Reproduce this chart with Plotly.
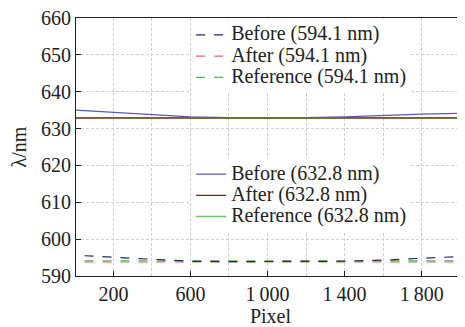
import plotly.graph_objects as go

pixel = [50, 200, 400, 500, 600, 800, 1000, 1200, 1400, 1600, 1800, 2000]
before_594 = [595.5, 595.1, 594.5, 594.2, 594.0, 593.9, 593.9, 593.9, 594.0, 594.3, 594.8, 595.3]
after_594 = [593.8, 593.8, 593.8, 593.9, 593.9, 593.9, 593.9, 593.9, 593.9, 593.9, 593.8, 593.8]
ref_594 = [594.1] * len(pixel)

pixel_s = [6, 200, 400, 600, 800, 1000, 1200, 1400, 1600, 1800, 2025]
before_633 = [635.0, 634.4, 633.7, 633.2, 633.0, 632.9, 633.0, 633.2, 633.6, 633.9, 634.2]
after_633 = [632.9, 632.9, 632.8, 632.8, 632.8, 632.8, 632.8, 632.8, 632.8, 632.9, 632.9]
ref_633 = [632.8] * len(pixel_s)

xtick_vals = [200, 600, 1000, 1400, 1800]
xtick_text = ["200", "600", "1\u2009000", "1\u2009400", "1\u2009800"]
xminor_vals = [400, 800, 1200, 1600, 2000]
ytick_vals = [590, 600, 610, 620, 630, 640, 650, 660]

font = "Liberation Serif"
fs = 20
grid = "#d0d0d0"


def lab(t):
    return "<span style='font-size:20px'>" + t + "</span>"


fig = go.Figure()

fig.add_trace(go.Scatter(x=pixel_s, y=ref_633, mode="lines", name=lab("Reference (632.8 nm)"),
                         line=dict(color="#6cc46c", width=1.5), legend="legend2", legendrank=3))
fig.add_trace(go.Scatter(x=pixel_s, y=after_633, mode="lines", name=lab("After (632.8 nm)"),
                         line=dict(color="#8b1a1a", width=1.2), legend="legend2", legendrank=2))
fig.add_trace(go.Scatter(x=pixel_s, y=before_633, mode="lines", name=lab("Before (632.8 nm)"),
                         line=dict(color="#5a5ab4", width=1.2), legend="legend2", legendrank=1))

fig.add_trace(go.Scatter(x=pixel, y=ref_594, mode="lines", name=lab("Reference (594.1 nm)"),
                         line=dict(color="#4cb84c", width=1.2, dash="dash"), legend="legend", legendrank=3))
fig.add_trace(go.Scatter(x=pixel, y=after_594, mode="lines", name=lab("After (594.1 nm)"),
                         line=dict(color="#e06a6a", width=1.2, dash="dash"), legend="legend", legendrank=2))
fig.add_trace(go.Scatter(x=pixel, y=before_594, mode="lines", name=lab("Before (594.1 nm)"),
                         line=dict(color="#26266e", width=1.2, dash="dash"), legend="legend", legendrank=1))

legend_common = dict(bgcolor="rgba(255,255,255,1)", borderwidth=0,
                     font=dict(family=font, size=14, color="#222"),
                     itemwidth=30, tracegroupgap=0, traceorder="normal",
                     xanchor="left", yanchor="top")

fig.update_layout(
    width=457, height=319,
    margin=dict(l=68, r=0, t=10, b=51, autoexpand=False),
    paper_bgcolor="white", plot_bgcolor="white",
    font=dict(family=font, size=fs, color="#222"),
    legend=dict(x=0.296, y=0.995, **legend_common),
    legend2=dict(x=0.296, y=0.455, **legend_common),
    xaxis=dict(range=[6, 2025], tickvals=xtick_vals, ticktext=xtick_text,
               ticks="inside", ticklen=5, tickcolor="#222",
               showline=True, linecolor="#222", linewidth=1, mirror=True,
               showgrid=True, gridcolor=grid, griddash="3px,2px", gridwidth=1,
               minor=dict(tickvals=xminor_vals, showgrid=True, gridcolor=grid,
                          griddash="3px,2px", ticklen=0),
               zeroline=False, ticklabeloverflow="allow",
               title=dict(text="Pixel", font=dict(family=font, size=fs), standoff=0),
               tickfont=dict(family=font, size=fs)),
    yaxis=dict(range=[590, 660], tickvals=ytick_vals,
               ticks="inside", ticklen=5, tickcolor="#222",
               showline=True, linecolor="#222", linewidth=1, mirror=False,
               showgrid=True, gridcolor=grid, griddash="3px,2px", gridwidth=1,
               zeroline=False, automargin=False, ticklabeloverflow="allow",
               title=dict(text="λ/nm", font=dict(family=font, size=fs), standoff=10),
               tickfont=dict(family=font, size=fs)),
)

fig.write_html("out.html")
